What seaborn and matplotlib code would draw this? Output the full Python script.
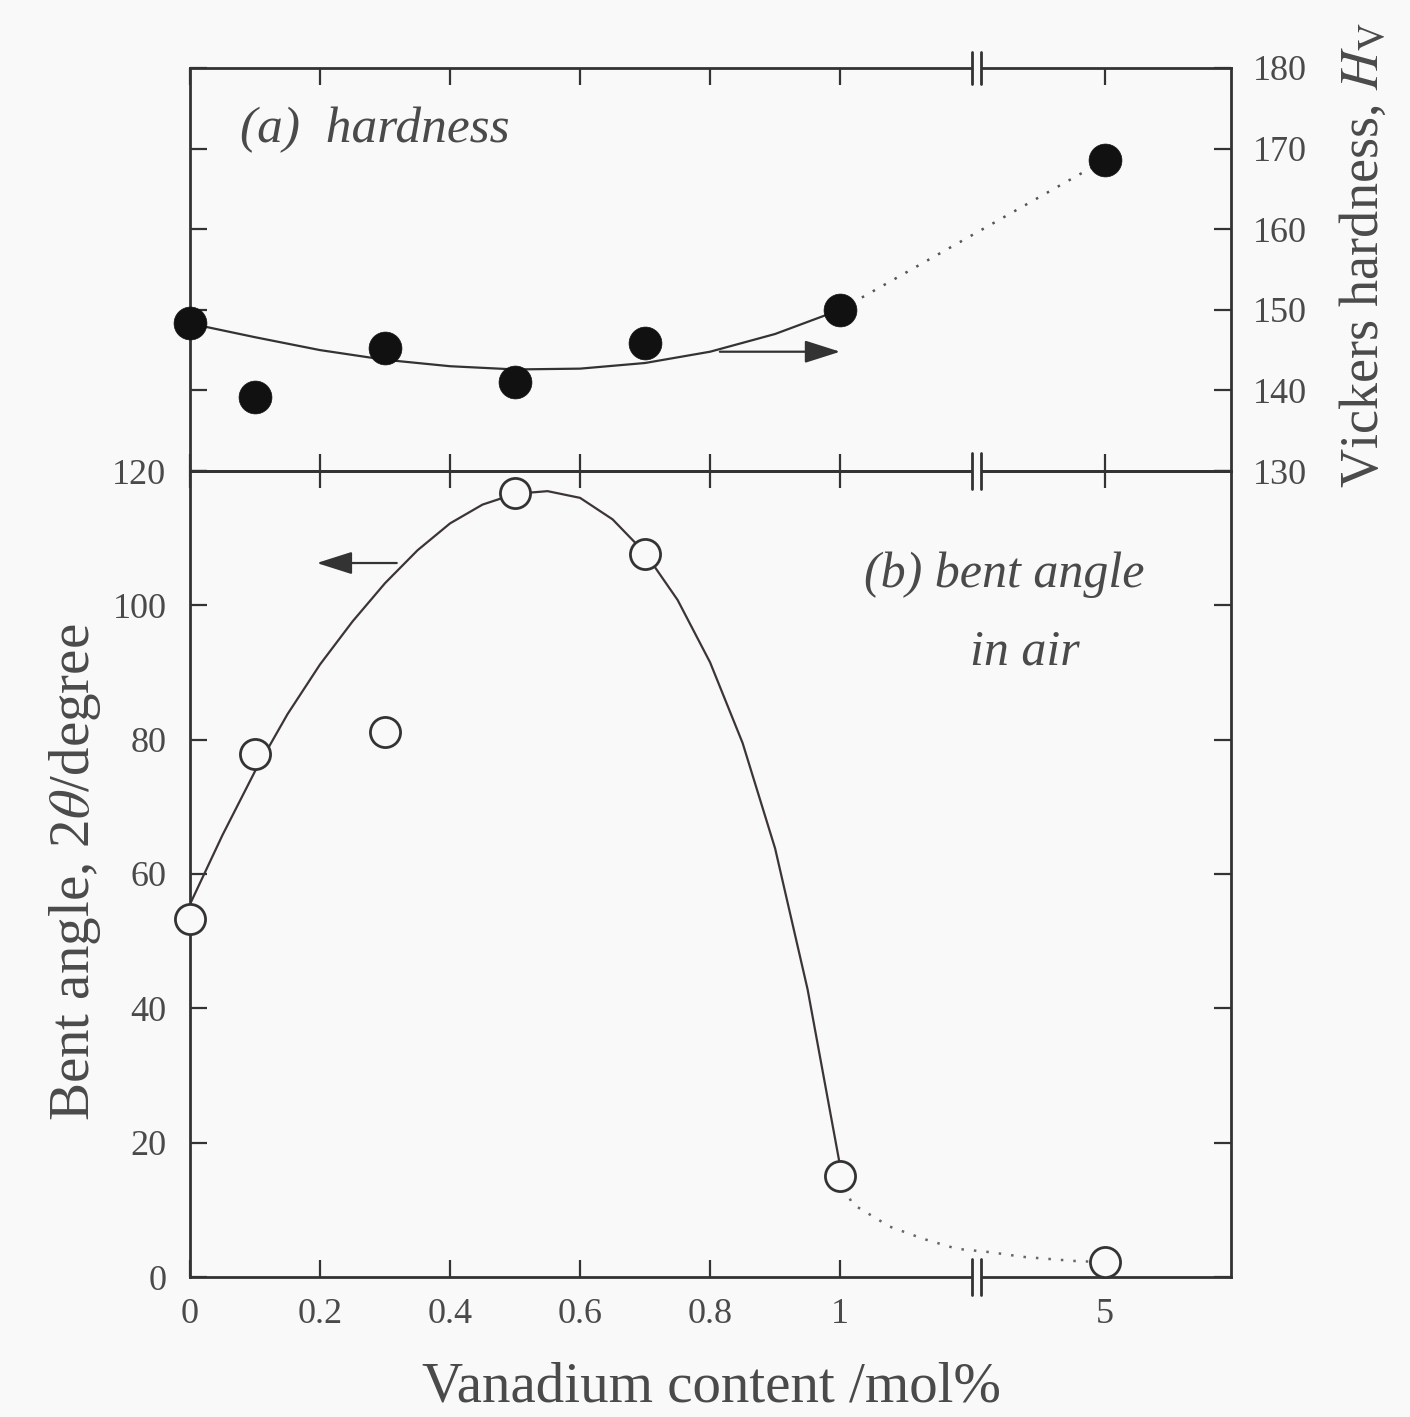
import numpy as np
import pandas as pd
import matplotlib
matplotlib.use("Agg")
import matplotlib.pyplot as plt
import matplotlib.transforms as mtransforms
from matplotlib.patches import Rectangle
from matplotlib.lines import Line2D
import seaborn as sns

# ---------------- data ----------------
x_content = [0, 0.1, 0.3, 0.5, 0.7, 1.0, 5]
hardness = [148.4, 139.2, 145.3, 141.0, 145.9, 150.0, 168.6]
bent_angle = [53.3, 77.9, 81.2, 116.7, 107.7, 15.1, 2.2]

hard_curve_x = [0, 0.1, 0.2, 0.3, 0.4, 0.5, 0.6, 0.7, 0.8, 0.9, 1.0]
hard_curve_y = [148.3, 146.6, 145.0, 143.8, 143.0, 142.6, 142.7, 143.4, 144.8, 147.0, 150.0]

bent_curve_x = [0, 0.05, 0.1, 0.15, 0.2, 0.25, 0.3, 0.35, 0.4, 0.45, 0.5,
                0.55, 0.6, 0.65, 0.7, 0.75, 0.8, 0.85, 0.9, 0.95, 1.0]
bent_curve_y = [55.5, 65.8, 75.3, 83.8, 91.2, 97.6, 103.3, 108.2, 112.2, 115.0, 116.6,
                117.0, 116.0, 112.8, 107.8, 100.8, 91.5, 79.5, 63.8, 42.8, 16.5]

bent_tail_x = [1.0, 1.18, 1.75, 2.25, 2.76, 3.26, 3.76, 4.51, 5.0]
bent_tail_y = [15.1, 10.9, 7.5, 5.7, 4.2, 3.7, 3.0, 2.4, 2.2]

x_ticks = [0, 0.2, 0.4, 0.6, 0.8, 1, 5]
x_ticklabels = ["0", "0.2", "0.4", "0.6", "0.8", "1", "5"]
hard_ticks = [130, 140, 150, 160, 170, 180]
bent_ticks = [0, 20, 40, 60, 80, 100, 120]

# ---------------- style ----------------
sns.set_theme(style="ticks")
BG = "#f9f9f9"
INK = "#333333"
TXT = "#4a4a4a"
plt.rcParams["font.family"] = ["Liberation Serif", "DejaVu Serif"]
plt.rcParams["mathtext.fontset"] = "stix"
plt.rcParams["axes.edgecolor"] = INK
plt.rcParams["axes.linewidth"] = 2.0

# broken x axis: linear up to 1, compressed beyond
K = 0.1019


def fwd(x):
    x = np.asarray(x, dtype=float)
    return np.where(x <= 1, x, 1 + (x - 1) * K)


def inv(t):
    t = np.asarray(t, dtype=float)
    return np.where(t <= 1, t, 1 + (t - 1) / K)


W, H = 1410, 1417
fig = plt.figure(figsize=(W / 100, H / 100), dpi=100, facecolor=BG)
L, R = 190, 1231
TOP, MID, BOT = 68, 471, 1277
ax_a = fig.add_axes([L / W, 1 - MID / H, (R - L) / W, (MID - TOP) / H])
ax_b = fig.add_axes([L / W, 1 - BOT / H, (R - L) / W, (BOT - MID) / H])
for ax in (ax_a, ax_b):
    ax.set_facecolor("none")

df_pts = pd.DataFrame({"x": x_content, "hv": hardness, "bent": bent_angle})
df_hc = pd.DataFrame({"x": hard_curve_x, "y": hard_curve_y})
df_bc = pd.DataFrame({"x": bent_curve_x, "y": bent_curve_y})
df_bt = pd.DataFrame({"x": bent_tail_x, "y": bent_tail_y})

# ---- (a) hardness ----
sns.lineplot(data=df_hc, x="x", y="y", ax=ax_a, sort=False, estimator=None,
             color=INK, lw=1.6)
sns.lineplot(data=df_pts.iloc[-2:], x="x", y="hv", ax=ax_a, sort=False, estimator=None,
             color="#555555", lw=1.8, linestyle=(0, (1, 4)))
sns.scatterplot(data=df_pts, x="x", y="hv", ax=ax_a, s=560, color="#111111",
                edgecolor="#111111", linewidth=0.5, zorder=5, clip_on=False)

# ---- (b) bent angle ----
sns.lineplot(data=df_bc, x="x", y="y", ax=ax_b, sort=False, estimator=None,
             color="#3d3535", lw=1.6)
sns.lineplot(data=df_bt, x="x", y="y", ax=ax_b, sort=False, estimator=None,
             color="#666666", lw=1.8, linestyle=(0, (1, 4)))
sns.scatterplot(data=df_pts, x="x", y="bent", ax=ax_b, s=470, color=BG,
                edgecolor=INK, linewidth=2.0, zorder=5, clip_on=False)

for ax in (ax_a, ax_b):
    ax.set_xscale("function", functions=(fwd, inv))
    ax.set_xlim(0, 6.9)
    ax.set_xticks(x_ticks)
    ax.minorticks_off()
    ax.set_xlabel("")
    ax.set_ylabel("")
    for sp in ax.spines.values():
        sp.set_visible(True)
        sp.set_color(INK)
        sp.set_linewidth(2.0)

ax_a.set_ylim(130, 180)
ax_a.set_yticks(hard_ticks)
ax_a.set_xticklabels([])
ax_a.tick_params(axis="x", direction="in", length=12, width=1.6, color=INK,
                 top=True, bottom=True, labelbottom=False, labeltop=False)
ax_a.tick_params(axis="y", direction="in", length=12, width=1.6, color=INK,
                 left=True, right=True, labelleft=False, labelright=True,
                 labelsize=26, labelcolor=TXT, pad=16)

ax_b.set_ylim(0, 120)
ax_b.set_yticks(bent_ticks)
ax_b.set_xticklabels(x_ticklabels)
ax_b.tick_params(axis="x", direction="in", length=12, width=1.6, color=INK,
                 top=True, bottom=True, labelbottom=True, labeltop=False,
                 labelsize=26, labelcolor=TXT, pad=15)
ax_b.tick_params(axis="y", direction="in", length=12, width=1.6, color=INK,
                 left=True, right=True, labelleft=True, labelright=False,
                 labelsize=26, labelcolor=TXT, pad=17)

# ---- axis break marks ----
def break_mark(ax, yfrac, half_px):
    tr = mtransforms.blended_transform_factory(ax.transData, ax.transAxes)
    hpx = ax.get_window_extent().height
    dy = half_px / hpx
    gap = 5 / hpx
    ax.add_patch(Rectangle((2.993, yfrac - gap), 3.128 - 2.993, 2 * gap,
                           transform=tr, facecolor=BG, edgecolor="none",
                           zorder=6, clip_on=False))
    for xb in (2.993, 3.128):
        ax.add_line(Line2D([xb, xb], [yfrac - dy, yfrac + dy], transform=tr,
                           color=INK, lw=2.0, zorder=7, clip_on=False))

break_mark(ax_a, 1.0, 16)
break_mark(ax_b, 1.0, 18)
break_mark(ax_b, 0.0, 18)

# ---- arrows ----
arrow_kw = dict(arrowstyle="-|>,head_length=1.1,head_width=0.35", mutation_scale=20,
                lw=1.6, color=INK, shrinkA=0, shrinkB=0)
ax_a.annotate("", xy=(1.0, 144.8), xytext=(0.815, 144.8), arrowprops=arrow_kw)
ax_b.annotate("", xy=(0.195, 106.3), xytext=(0.318, 106.3), arrowprops=arrow_kw)

# ---- panel texts ----
ax_a.text(0.048, 0.846, "(a)  hardness", transform=ax_a.transAxes, fontsize=37,
          style="italic", color=TXT, ha="left", va="center")
ax_b.text(0.782, 0.871, "(b) bent angle", transform=ax_b.transAxes, fontsize=36,
          style="italic", color=TXT, ha="center", va="center")
ax_b.text(0.802, 0.775, "in air", transform=ax_b.transAxes, fontsize=36,
          style="italic", color=TXT, ha="center", va="center")

# ---- axis titles ----
fig.text(712 / W, 1 - 1388 / H, "Vanadium content /mol%", fontsize=41, color=TXT,
         ha="center", va="center")
fig.text(75 / W, 1 - 872 / H, r"Bent angle, 2$\mathit{\theta}$/degree", fontsize=41,
         color=TXT, ha="center", va="center", rotation=90)
fig.text(1365 / W, 1 - 255 / H, r"Vickers hardness, $\mathit{H}_{\mathrm{V}}$", fontsize=39,
         color=TXT, ha="center", va="center", rotation=90)

fig.savefig("out.png", dpi=100, facecolor=BG)
